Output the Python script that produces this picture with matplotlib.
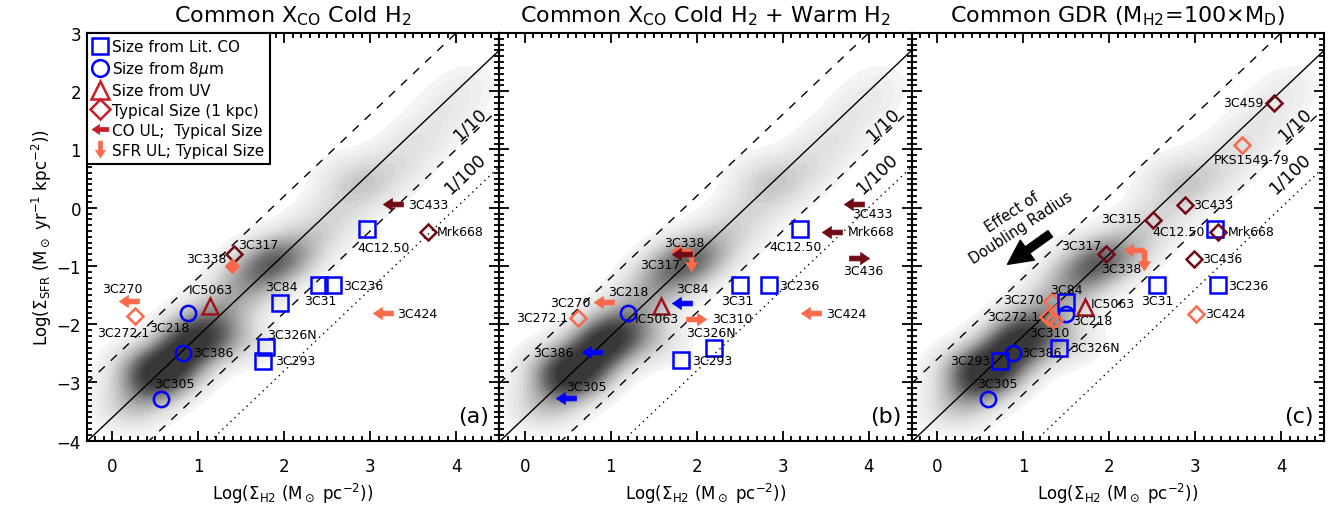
import numpy as np
import matplotlib
matplotlib.use('Agg')
import matplotlib.pyplot as plt
from matplotlib.path import Path
from matplotlib.lines import Line2D
from matplotlib.colors import LinearSegmentedColormap
from matplotlib.ticker import MultipleLocator

plt.rcParams['font.family'] = ['DejaVu Sans']
plt.rcParams['mathtext.fontset'] = 'dejavusans'

titles = [r'Common X$_{\rm CO}$ Cold H$_2$',
          r'Common X$_{\rm CO}$ Cold H$_2$ + Warm H$_2$',
          r'Common GDR (M$_{\rm H2}$=100$\times$M$_{\rm D}$)']
tags = ['(a)', '(b)', '(c)']

# Kennicutt-Schmidt line: log SFR = slope * log H2 + zero, and offsets (x10, x1, x1/10, x1/100)
ks_slope = 1.4
ks_zero = -3.6
ks_offsets = [1, 0, -1, -2]

# ridge points of the normal-galaxy density (grey background)
dens_x = [0.20, 0.45, 0.65, 0.90, 1.10, 1.35, 1.60, 1.85, 2.10, 2.40, 2.65, 2.75, 3.00, 3.30, 3.60, 3.90, 4.15, 1.50, 0.30]
dens_y = [-3.45, -3.05, -2.75, -2.35, -2.05, -1.65, -1.25, -0.95, -0.75, -0.40, 0.00, 0.55, 0.35, 0.75, 1.20, 1.70, 2.15, -2.30, -2.70]
dens_w = [0.25, 0.50, 0.75, 0.75, 0.50, 0.30, 0.38, 0.50, 0.32, 0.20, 0.18, 0.15, 0.18, 0.18, 0.16, 0.13, 0.09, 0.20, 0.22]

# panel (a)
a_names = ['3C433', '4C12.50', 'Mrk668', '3C317', '3C338', '3C270', '3C272.1', '3C218', 'IC5063',
           '3C386', '3C305', '3C84', '3C31', '3C236', '3C326N', '3C293', '3C424']
a_x = [3.38, 2.96, 3.67, 1.42, 1.39, 0.31, 0.26, 0.88, 1.14, 0.82, 0.57, 1.95, 2.40, 2.57, 1.79, 1.75, 3.27]
a_y = [0.06, -0.37, -0.41, -0.80, -1.00, -1.61, -1.86, -1.81, -1.69, -2.49, -3.28, -1.63, -1.33, -1.33, -2.39, -2.63, -1.81]
a_kind = ['la_m', 'sq', 'dm', 'dm', 'fs', 'la_s', 'ds', 'ci', 'tr', 'ci', 'ci', 'sq', 'sq', 'sq', 'sq', 'sq', 'la_s']

# panel (b)
b_names = ['3C433', '4C12.50', 'Mrk668', '3C436', '3C338', '3C317', '3C270', '3C218', '3C272.1', 'IC5063',
           '3C84', '3C310', '3C31', '3C236', '3C424', '3C326N', '3C293', '3C386', '3C305']
b_x = [3.95, 3.20, 3.69, 3.77, 1.93, 1.94, 1.04, 1.20, 0.62, 1.58, 1.95, 1.88, 2.50, 2.84, 3.45, 2.20, 1.82, 0.90, 0.59]
b_y = [0.06, -0.36, -0.41, -0.87, -0.74, -0.79, -1.62, -1.80, -1.89, -1.69, -1.63, -1.91, -1.33, -1.33, -1.81, -2.40, -2.62, -2.48, -3.26]
b_kind = ['la_m', 'sq', 'la_m', 'ra_m', 'lda_s', 'la_m', 'la_s', 'ci', 'ds', 'tr',
          'la_b', 'ra_s', 'sq', 'sq', 'la_s', 'sq', 'sq', 'la_b', 'la_b']

# panel (c)
c_names = ['3C459', 'PKS1549-79', '3C433', '3C315', '4C12.50', 'Mrk668', '3C317', '3C338', '3C436', '3C31',
           '3C236', '3C424', '3C270', '3C84', 'IC5063', '3C218', '3C272.1', '3C310', '3C326N', '3C386',
           '3C293', '3C305']
c_x = [3.92, 3.54, 2.88, 2.51, 3.23, 3.27, 1.96, 2.40, 2.99, 2.56, 3.27, 3.01, 1.33, 1.50, 1.72, 1.50,
       1.29, 1.36, 1.42, 0.88, 0.73, 0.59]
c_y = [1.80, 1.08, 0.05, -0.21, -0.37, -0.41, -0.79, -0.72, -0.88, -1.33, -1.33, -1.82, -1.61, -1.62,
       -1.70, -1.83, -1.87, -1.93, -2.40, -2.49, -2.63, -3.28]
c_kind = ['dm', 'ds', 'dm', 'dm', 'sq', 'dm', 'dm', 'lda_s', 'dm', 'sq', 'sq', 'ds', 'ds', 'sq', 'tr', 'ci',
          'ds', 'ds', 'sq', 'ci', 'sq', 'ci']

# label anchor (x, y, ha) per source
a_lab = {'3C433': (3.44, 0.06, 'left'), '4C12.50': (3.15, -0.68, 'center'), 'Mrk668': (3.77, -0.41, 'left'),
         '3C317': (1.46, -0.64, 'left'), '3C338': (1.33, -0.87, 'right'), '3C270': (0.12, -1.38, 'center'),
         '3C272.1': (0.12, -2.15, 'center'), '3C218': (0.66, -2.05, 'center'), 'IC5063': (1.15, -1.41, 'center'),
         '3C386': (0.94, -2.49, 'left'), '3C305': (0.72, -3.02, 'center'), '3C84': (1.97, -1.36, 'center'),
         '3C31': (2.42, -1.60, 'center'), '3C236': (2.68, -1.33, 'left'), '3C326N': (2.09, -2.17, 'center'),
         '3C293': (1.89, -2.63, 'left'), '3C424': (3.31, -1.81, 'left')}
b_lab = {'3C433': (4.04, -0.10, 'center'), '4C12.50': (3.15, -0.66, 'center'), 'Mrk668': (3.76, -0.41, 'left'),
         '3C436': (3.94, -1.08, 'center'), '3C338': (1.85, -0.59, 'center'), '3C317': (1.57, -0.97, 'center'),
         '3C270': (0.77, -1.62, 'right'), '3C218': (1.20, -1.44, 'center'), '3C272.1': (0.50, -1.89, 'right'),
         'IC5063': (1.54, -1.91, 'center'), '3C84': (1.95, -1.39, 'center'), '3C310': (2.18, -1.91, 'left'),
         '3C31': (2.47, -1.60, 'center'), '3C236': (2.96, -1.33, 'left'), '3C424': (3.50, -1.81, 'left'),
         '3C326N': (2.16, -2.15, 'center'), '3C293': (1.94, -2.62, 'left'), '3C386': (0.57, -2.48, 'right'),
         '3C305': (0.71, -3.07, 'center')}
c_lab = {'3C459': (3.79, 1.80, 'right'), 'PKS1549-79': (3.66, 0.82, 'center'), '3C433': (2.98, 0.05, 'left'),
         '3C315': (2.38, -0.18, 'right'), '4C12.50': (3.11, -0.40, 'right'), 'Mrk668': (3.38, -0.41, 'left'),
         '3C317': (1.91, -0.65, 'right'), '3C338': (2.14, -1.04, 'center'), '3C436': (3.08, -0.88, 'left'),
         '3C31': (2.56, -1.59, 'center'), '3C236': (3.38, -1.33, 'left'), '3C424': (3.11, -1.82, 'left'),
         '3C270': (1.24, -1.57, 'right'), '3C84': (1.50, -1.40, 'center'), 'IC5063': (1.79, -1.64, 'left'),
         '3C218': (1.57, -1.93, 'left'), '3C272.1': (1.19, -1.86, 'right'), '3C310': (1.30, -2.15, 'center'),
         '3C326N': (1.55, -2.40, 'left'), '3C386': (0.97, -2.49, 'left'), '3C293': (0.62, -2.63, 'right'),
         '3C305': (0.70, -3.02, 'center')}

BLUE = '#0000FF'
MAROON = '#700A14'
SALMON = '#FA6A4A'
RED = '#A0141E'
LEGRED = '#C81E28'


def arrow_marker(direction, centered=False):
    # filled arrow, tail at origin and head at -1 (left); unit length
    v = np.array([(0, 0.12), (-0.55, 0.12), (-0.55, 0.3), (-1, 0), (-0.55, -0.3),
                  (-0.55, -0.12), (0, -0.12), (0, 0.12)])
    if centered:
        v[:, 0] += 0.5
    if direction == 'right':
        v[:, 0] = -v[:, 0]
    elif direction == 'down':
        v = v[:, ::-1].copy()
    codes = [Path.MOVETO] + [Path.LINETO] * 6 + [Path.CLOSEPOLY]
    return Path(v, codes)


LEFT = arrow_marker('left')
RIGHT = arrow_marker('right')
DOWN = arrow_marker('down')
ARR_MS = 29


def draw_point(ax, x, y, kind):
    kw = dict(ls='none', zorder=5)
    if kind == 'sq':
        ax.plot(x, y, marker='s', ms=11, mfc='none', mec=BLUE, mew=1.8, **kw)
    elif kind == 'ci':
        ax.plot(x, y, marker='o', ms=11, mfc='none', mec=BLUE, mew=1.8, **kw)
    elif kind == 'tr':
        ax.plot(x, y, marker='^', ms=12, mfc='none', mec=RED, mew=1.8, **kw)
    elif kind == 'dm':
        ax.plot(x, y, marker='D', ms=8, mfc='none', mec=MAROON, mew=1.8, **kw)
    elif kind == 'ds':
        ax.plot(x, y, marker='D', ms=8, mfc='none', mec=SALMON, mew=1.8, **kw)
    elif kind == 'fs':
        ax.plot(x, y, marker='D', ms=7, mfc=SALMON, mec=SALMON, mew=1, **kw)
    else:
        col = {'m': MAROON, 's': SALMON, 'b': BLUE}[kind[-1]]
        marks = {'la': [LEFT], 'ra': [RIGHT], 'lda': [LEFT, DOWN]}[kind.split('_')[0]]
        for mk in marks:
            ax.plot(x, y, marker=mk, ms=ARR_MS, mfc=col, mec=col, mew=0.5, **kw)


fig = plt.figure(figsize=(13.37, 5.06), dpi=100)
ax_w = 0.3085
ax_l = 0.0648
ax_b = 0.1271
ax_h = 0.8057
xlim = (-0.3, 4.5)
ylim = (-4, 3)

gx, gy = np.meshgrid(np.linspace(xlim[0], xlim[1], 400), np.linspace(ylim[0], ylim[1], 400))
dens = np.zeros_like(gx)
for dx, dy, dw in zip(dens_x, dens_y, dens_w):
    dens += dw * np.exp(-((gx - dx) ** 2 + (gy - dy) ** 2) / (2 * 0.28 ** 2))
grey = LinearSegmentedColormap.from_list(
    'g', [(0, '#F6F6F6'), (0.2, '#DADADA'), (0.45, '#A8A8A8'), (0.75, '#606060'), (1, '#383838')])

panels = [(a_names, a_x, a_y, a_kind, a_lab),
          (b_names, b_x, b_y, b_kind, b_lab),
          (c_names, c_x, c_y, c_kind, c_lab)]

xx = np.array(xlim)
for i, (names, px, py, kinds, labs) in enumerate(panels):
    ax = fig.add_axes([ax_l + i * ax_w, ax_b, ax_w, ax_h])
    ax.contourf(gx, gy, dens, levels=np.linspace(0.06, 1.05, 30), cmap=grey, extend='max', zorder=0)

    for off in ks_offsets:
        ls = {1: (0, (6, 6)), 0: '-', -1: (0, (6, 6)), -2: (0, (1, 3))}[off]
        ax.plot(xx, ks_slope * xx + ks_zero + off, color='k', lw=1, ls=ls, zorder=2)

    for n, x, y, k in zip(names, px, py, kinds):
        draw_point(ax, x, y, k)
        lx, ly, ha = labs[n]
        ax.text(lx, ly, n, fontsize=9, ha=ha, va='center', zorder=6)

    ax.set_xlim(xlim)
    ax.set_ylim(ylim)
    ax.xaxis.set_major_locator(MultipleLocator(1))
    ax.xaxis.set_minor_locator(MultipleLocator(0.1))
    ax.yaxis.set_major_locator(MultipleLocator(1))
    ax.yaxis.set_minor_locator(MultipleLocator(0.1))
    ax.tick_params(which='both', direction='in', top=True, right=True, width=1.3)
    ax.tick_params(which='major', length=7, labelsize=12)
    ax.tick_params(which='minor', length=3.5)
    ax.tick_params(axis='x', pad=12)
    ax.tick_params(axis='y', pad=4)
    for s in ax.spines.values():
        s.set_linewidth(1.5)
    if i > 0:
        ax.set_yticklabels([])
    else:
        ax.set_ylabel(r'Log($\Sigma_{\rm SFR}$ (M$_\odot$ yr$^{-1}$ kpc$^{-2}$))', fontsize=12, labelpad=2)
    ax.set_xlabel(r'Log($\Sigma_{\rm H2}$ (M$_\odot$ pc$^{-2}$))', fontsize=12, labelpad=4)
    ax.set_title(titles[i], fontsize=16, pad=8)
    ax.text(0.975, 0.035, tags[i], transform=ax.transAxes, fontsize=16, ha='right', va='bottom')

    # angle of the KS lines on screen
    bb = ax.get_position()
    sx = bb.width * 1337 / (xlim[1] - xlim[0])
    sy = bb.height * 506 / (ylim[1] - ylim[0])
    ang = np.degrees(np.arctan(ks_slope * sy / sx))
    ax.text(4.16, 1.44, '1/10', fontsize=12.5, rotation=ang, ha='center', va='center', zorder=3)
    ax.text(4.10, 0.60, '1/100', fontsize=12.5, rotation=ang, ha='center', va='center', zorder=3)

    if i == 0:
        handles = [
            Line2D([], [], ls='none', marker='s', ms=12, mfc='none', mec=BLUE, mew=1.8, label='Size from Lit. CO'),
            Line2D([], [], ls='none', marker='o', ms=12, mfc='none', mec=BLUE, mew=1.8, label=r'Size from 8$\mu$m'),
            Line2D([], [], ls='none', marker='^', ms=13, mfc='none', mec=LEGRED, mew=1.8, label='Size from UV'),
            Line2D([], [], ls='none', marker='D', ms=10, mfc='none', mec=LEGRED, mew=1.8, label='Typical Size (1 kpc)'),
            Line2D([], [], ls='none', marker=arrow_marker('left', True), ms=12, mfc=LEGRED, mec=LEGRED,
                   mew=0.5, label='CO UL;  Typical Size'),
            Line2D([], [], ls='none', marker=arrow_marker('down', True), ms=12, mfc=SALMON, mec=SALMON,
                   mew=0.5, label='SFR UL; Typical Size'),
        ]
        leg = ax.legend(handles=handles, loc='upper left', borderaxespad=0, fancybox=False, framealpha=1,
                        edgecolor='k', fontsize=11, handlelength=1.0, handletextpad=0.25,
                        labelspacing=0.32, borderpad=0.4)
        leg.get_frame().set_linewidth(1.5)
        leg.set_zorder(10)

    if i == 2:
        ax.text(0.92, -0.20, 'Effect of\nDoubling Radius', fontsize=10.5, rotation=33,
                ha='center', va='center', multialignment='center', zorder=6)
        ax.annotate('', xy=(0.79, -1.0), xytext=(1.34, -0.42),
                    arrowprops=dict(arrowstyle='simple,head_length=1.1,head_width=1.1,tail_width=0.35',
                                    color='k', mutation_scale=16), zorder=6)

fig.savefig('out.png', dpi=100)
